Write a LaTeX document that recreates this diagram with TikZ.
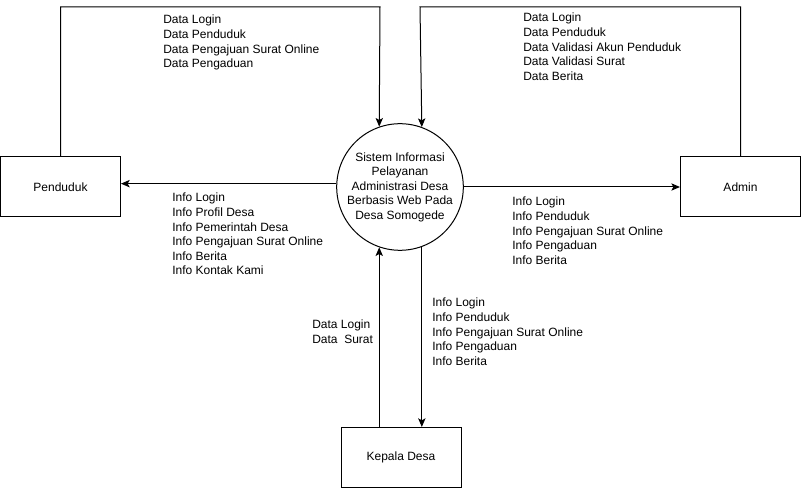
\documentclass[tikz,border=0pt]{standalone}
\usepackage{fontspec}
\setmainfont{Liberation Sans}
\usetikzlibrary{arrows.meta}
\begin{document}
\begin{tikzpicture}[x=0.75pt,y=-0.75pt,
  every node/.style={font=\fontsize{9}{10.9}\selectfont},
  entity/.style={draw,line width=0.75pt,rectangle,minimum width=90pt,minimum height=45pt,inner sep=0pt},
  proc/.style={draw,line width=0.75pt,circle,minimum size=90pt,inner sep=0pt,align=center},
  flow/.style={line width=0.75pt,-{Stealth[length=6.5pt,width=5.5pt,inset=1.5pt]}},
  lbl/.style={anchor=north west,inner sep=0pt,align=left}]
\useasboundingbox (0,0) rectangle (801,488);
\node[proc] (circ) at (400,187) {Sistem Informasi\\Pelayanan\\Administrasi Desa\\Berbasis Web Pada\\Desa Somogede};
\node[entity] (pend) at (60.5,187) {Penduduk};
\node[entity] (admin) at (740.5,187) {Admin};
\node[entity] (kades) at (401,457.5) {Kepala Desa};
\coordinate (t1) at (380,7);
\coordinate (t2) at (420,7);
\draw[flow] (pend.north) |- (t1) -- (circ.109.5);
\draw[flow] (admin.north) |- (t2) -- (circ.70.5);
\draw[flow] (circ.177) -- (circ.177 -| pend.east);
\draw[flow] (circ.east) -- (admin.west);
\draw[flow] (kades.north -| circ.-109.5) -- (circ.-109.5);
\draw[flow] (circ.-70.5) -- (circ.-70.5 |- kades.north);
\node[lbl] (l1) at (163,15) {Data Login\\Data Penduduk\\Data Pengajuan Surat Online\\Data Pengaduan};
\node[lbl] (l2) at (523,13) {Data Login\\Data Penduduk\\Data Validasi Akun Penduduk\\Data Validasi Surat\\Data Berita};
\node[lbl] (l3) at (172,193) {Info Login\\Info Profil Desa\\Info Pemerintah Desa\\Info Pengajuan Surat Online\\Info Berita\\Info Kontak Kami};
\node[lbl] (l4) at (512,197) {Info Login\\Info Penduduk\\Info Pengajuan Surat Online\\Info Pengaduan\\Info Berita};
\node[lbl] (l5) at (432,298) {Info Login\\Info Penduduk\\Info Pengajuan Surat Online\\Info Pengaduan\\Info Berita};
\node[lbl] (l6) at (312,320) {Data Login\\Data\ \ Surat};
\end{tikzpicture}
\end{document}
